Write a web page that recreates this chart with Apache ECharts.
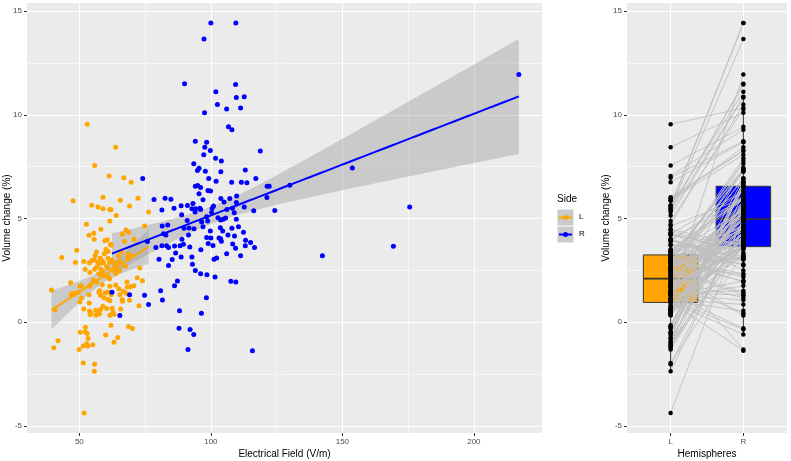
<!DOCTYPE html>
<html><head><meta charset="utf-8">
<script src="https://cdn.jsdelivr.net/npm/echarts@6/dist/echarts.min.js"></script>
<style>html,body{margin:0;padding:0;background:#fff}#c{width:791px;height:461px}</style>
</head><body><div id="c"></div>
<script>
// ---------- data ----------
const sides = ['L', 'R'];
const sideColors = ['#FFA500', '#0000FF'];

const elecL = [
 53.0,63.8,55.8,61.3,66.9,69.7,47.6,59.0,65.6,72.3,
 54.7,57.1,59.0,61.6,62.0,69.1,64.0,76.3,52.7,61.6,
 58.2,53.7,55.5,55.6,59.7,60.6,61.8,62.1,67.7,68.7,
 66.3,67.2,70.8,74.8,49.0,56.5,60.1,60.9,64.9,68.5,
 43.3,48.5,51.7,53.8,54.7,55.7,57.6,58.7,59.2,60.9,
 61.5,63.6,65.3,68.2,70.1,52.2,55.8,56.7,58.2,59.0,
 60.4,63.2,63.8,65.3,73.0,57.4,58.4,59.6,61.0,61.5,
 63.8,68.1,70.7,72.0,74.0,46.7,50.2,50.8,53.7,54.3,
 55.3,56.6,57.7,58.7,61.6,63.8,65.0,66.7,68.2,69.5,
 39.4,46.9,47.4,47.9,48.4,49.6,50.8,50.2,53.7,57.4,
 58.0,59.4,59.7,60.8,62.1,60.9,61.6,65.4,66.3,66.4,
 68.0,69.1,40.7,51.7,53.9,54.4,56.2,57.2,58.1,57.6,
 59.0,60.4,62.8,62.5,65.7,53.8,72.7,54.1,56.3,61.6,
 63.2,62.0,68.7,70.2,52.3,50.3,52.2,53.0,60.0,64.6,
 53.3,41.9,63.2,52.8,55.1,51.5,53.2,49.9,40.3,51.5,
 55.8,55.7,51.8,56.0,58.0,62.5,64.0,66.0,57.0,61.0,
 59.5,54.0,67.5
];
const volL = [
 9.54,8.44,7.55,7.05,6.97,6.75,5.86,6.03,5.88,5.98,
 5.64,5.56,5.47,5.44,5.42,5.60,5.15,5.31,4.72,4.88,
 4.48,4.19,4.29,4.00,3.93,3.98,3.76,3.71,4.45,4.34,
 4.24,3.89,4.00,4.64,3.47,3.39,3.52,3.41,3.21,3.28,
 3.12,2.88,2.93,2.85,2.96,3.01,2.82,2.97,2.85,3.09,
 2.88,2.83,2.93,3.09,3.20,2.56,2.56,2.67,2.56,2.45,
 2.67,2.58,2.49,2.48,2.61,2.34,2.29,2.24,2.18,2.10,
 2.34,1.94,1.76,2.14,2.00,1.90,1.73,1.76,1.73,1.81,
 2.03,1.94,1.52,1.81,1.73,1.79,1.62,1.49,1.70,1.71,
 1.55,1.33,1.39,1.33,1.38,1.44,1.17,0.98,1.33,1.46,
 1.30,1.17,1.41,1.46,1.33,1.09,1.03,1.33,1.10,1.01,
 1.39,1.06,0.60,0.64,0.53,0.43,0.58,0.53,0.61,0.40,
 0.77,0.66,0.48,0.67,0.64,0.93,0.80,0.37,0.34,0.34,
 0.38,-0.14,-0.21,-0.30,-0.24,-0.48,-0.46,-0.54,-0.62,-0.73,
 -0.78,-0.89,-0.97,-1.04,-1.08,-1.15,-1.15,-1.31,-1.23,-1.97,
 -2.03,-2.36,-4.38,3.20,3.10,3.00,2.70,3.40,2.90,2.60,
 3.30,2.40,2.70
];
const elecR = [
 111.3,97.6,106.7,108.0,94.1,98.4,97.7,99.8,97.3,118.8,
 100.0,109.5,97.4,90.0,109.4,101.9,109.7,112.7,102.5,106.0,
 88.3,89.6,86.6,80.3,85.3,83.9,88.7,92.0,92.8,94.1,
 98.9,99.9,103.8,107.2,109.8,121.3,78.4,82.6,84.8,81.4,
 103.7,104.0,96.2,101.2,102.2,96.1,98.5,101.6,107.6,109.5,
 101.8,104.0,93.5,95.5,94.9,97.9,103.8,113.1,99.2,117.1,
 91.3,62.4,65.4,69.1,96.1,101.0,105.0,97.0,106.5,110.5,
 108.2,108.9,109.7,112.7,116.3,124.3,102.7,103.7,104.7,105.6,
 98.3,96.4,82.0,82.9,75.9,79.1,81.4,83.2,83.9,86.2,
 103.6,108.0,175.6,153.8,217.1,169.4,142.4,115.8,112.4,113.2,
 87.3,86.2,80.9,74.8,81.6,76.3,88.1,87.9,92.1,93.5,
 88.7,91.1,93.2,92.8,94.2,95.8,94.0,88.9,100.3,106.1,
 115.1,116.6,113.1,111.3,109.0,108.3,109.4,98.4,100.0,103.1,
 74.1,107.9,111.6,113.7,96.1,94.1,95.0,121.4,122.2,130.0,
 91.0,86.0,100.8,95.5,102.0,99.0,104.5,91.5,97.0,106.0,
 98.8,109.7,96.5,98.4,81.5,83.6,89.8,91.7,93.6,99.8,
 93.0,100.5,89.0
];
const volR = [
 10.33,10.10,9.42,9.28,8.73,8.68,8.44,8.28,8.08,8.25,
 14.42,14.42,13.65,11.50,11.46,11.11,10.84,10.87,10.50,10.28,
 3.69,3.76,3.34,3.04,3.02,2.73,3.15,3.63,3.15,2.49,
 6.35,6.33,5.97,5.97,6.09,6.01,5.92,5.98,5.93,5.41,
 4.03,3.90,3.49,3.04,3.10,2.34,2.29,2.18,1.98,1.94,
 7.90,7.77,7.64,7.42,7.32,7.28,7.26,7.34,6.93,6.93,
 -1.31,1.44,0.32,1.33,5.44,5.60,5.80,4.60,4.20,4.60,
 5.50,5.28,5.77,5.56,5.37,5.39,5.04,4.93,4.97,5.02,
 1.18,0.43,4.27,4.21,3.89,3.60,3.69,3.69,3.60,3.68,
 4.56,4.53,5.55,7.43,11.94,3.66,3.21,-1.37,4.34,3.95,
 1.99,1.76,1.52,1.30,1.07,0.86,0.55,-0.29,-0.35,-0.59,
 5.61,5.63,5.73,5.47,5.47,5.49,5.31,5.18,5.29,5.44,
 3.84,3.60,3.69,3.21,4.16,3.77,3.57,4.08,4.06,4.06,
 6.93,6.75,6.75,6.73,6.49,6.55,6.59,6.56,6.56,6.60,
 4.90,5.50,3.70,6.20,6.80,3.80,4.40,4.20,5.90,3.30,
 4.88,4.97,4.83,5.08,4.64,4.69,4.53,4.54,4.51,4.40,
 2.80,5.50,4.00
];

const xTicks = [50, 100, 150, 200];
const xMinor = [75, 125, 175];
const yTicks = [-5, 0, 5, 10, 15];
const yMinor = [-2.5, 2.5, 7.5, 12.5];
const hemiTicks = [1, 2];

// ---------- derived ----------
function fitLine(xs, ys) {
  const n = xs.length;
  const xbar = xs.reduce((a, b) => a + b, 0) / n;
  const ybar = ys.reduce((a, b) => a + b, 0) / n;
  let sxx = 0, sxy = 0;
  for (let i = 0; i < n; i++) { sxx += (xs[i] - xbar) ** 2; sxy += (xs[i] - xbar) * (ys[i] - ybar); }
  const b = sxy / sxx, a = ybar - b * xbar;
  let sse = 0;
  for (let i = 0; i < n; i++) sse += (ys[i] - a - b * xs[i]) ** 2;
  const s = Math.sqrt(sse / (n - 2));
  const t = 1.975;
  const xmin = Math.min(...xs), xmax = Math.max(...xs);
  const pts = [];
  for (let k = 0; k <= 80; k++) {
    const x = xmin + (xmax - xmin) * k / 80;
    const yh = a + b * x;
    const se = s * Math.sqrt(1 / n + (x - xbar) ** 2 / sxx);
    pts.push([x, yh, yh - t * se, yh + t * se]);
  }
  return pts;
}
function quant(sorted, p) {
  const h = (sorted.length - 1) * p, lo = Math.floor(h);
  return lo + 1 < sorted.length ? sorted[lo] + (h - lo) * (sorted[lo + 1] - sorted[lo]) : sorted[lo];
}
function boxStats(vals, pos) {
  const s = [...vals].sort((a, b) => a - b);
  const q1 = quant(s, 0.25), med = quant(s, 0.5), q3 = quant(s, 0.75);
  const iqr = q3 - q1;
  const lo = Math.min(...s.filter(v => v >= q1 - 1.5 * iqr));
  const hi = Math.max(...s.filter(v => v <= q3 + 1.5 * iqr));
  return [pos, q1, med, q3, lo, hi];
}
const fitL = fitLine(elecL, volL);
const fitR = fitLine(elecR, volR);

const Y_MIN = -5.34, Y_MAX = 15.39;
const X_MIN = 30.1, X_MAX = 225.9;

function bandRenderer(fit) {
  return function (params, api) {
    const up = fit.map(p => api.coord([p[0], p[3]]));
    const dn = fit.map(p => api.coord([p[0], p[2]])).reverse();
    return { type: 'polygon', shape: { points: up.concat(dn) }, style: { fill: 'rgba(153,153,153,0.4)' } };
  };
}

const FONT = 'Liberation Sans, Arial, sans-serif';
const labelStyle = { color: '#4D4D4D', fontSize: 8, fontFamily: FONT };
const nameStyle = { color: '#000000', fontSize: 10, fontFamily: FONT };
const tickStyle = { show: true, length: 3, lineStyle: { color: '#333333', width: 1 } };

function mainAxis(extra, ticks, min, max) {
  return Object.assign({
    type: 'value', min, max, offset: 0,
    axisLine: { show: false, onZero: false },
    axisTick: Object.assign({ customValues: ticks }, tickStyle),
    axisLabel: Object.assign({ customValues: ticks, margin: 5 }, labelStyle),
    splitLine: { show: true, lineStyle: { color: '#FFFFFF', width: 1.1 } },
    nameLocation: 'middle', nameMoveOverlap: false, nameTextStyle: nameStyle
  }, extra);
}
function minorAxis(extra, ticks, min, max) {
  return Object.assign({
    type: 'value', min, max, offset: 0,
    axisLine: { show: false, onZero: false },
    axisTick: { show: false, customValues: ticks },
    axisLabel: { show: false, customValues: ticks },
    splitLine: { show: true, lineStyle: { color: '#FFFFFF', width: 0.55 } }
  }, extra);
}

const chart = echarts.init(document.getElementById('c'), null, { renderer: 'canvas' });
chart.setOption({
  animation: false,
  backgroundColor: '#ffffff',
  grid: [
    { left: 27, top: 3, width: 515, height: 430, show: true, backgroundColor: '#EBEBEB', borderWidth: 0, outerBoundsMode: 'none', containLabel: false },
    { left: 627, top: 3, width: 160, height: 430, show: true, backgroundColor: '#EBEBEB', borderWidth: 0, outerBoundsMode: 'none', containLabel: false }
  ],
  xAxis: [
    minorAxis({ gridIndex: 0, position: 'bottom' }, xMinor, X_MIN, X_MAX),
    mainAxis({ gridIndex: 0, position: 'bottom', name: 'Electrical Field (V/m)', nameGap: 16 }, xTicks, X_MIN, X_MAX),
    mainAxis({ gridIndex: 1, position: 'bottom', name: 'Hemispheres', nameGap: 16,
      axisLabel: Object.assign({ customValues: hemiTicks, margin: 5, formatter: v => sides[Math.round(v) - 1] }, labelStyle) }, hemiTicks, 0.4, 2.6)
  ],
  yAxis: [
    minorAxis({ gridIndex: 0, position: 'left' }, yMinor, Y_MIN, Y_MAX),
    mainAxis({ gridIndex: 0, position: 'left', name: 'Volume change (%)', nameGap: 15 }, yTicks, Y_MIN, Y_MAX),
    minorAxis({ gridIndex: 1, position: 'left' }, yMinor, Y_MIN, Y_MAX),
    mainAxis({ gridIndex: 1, position: 'left', name: 'Volume change (%)', nameGap: 16 }, yTicks, Y_MIN, Y_MAX)
  ],
  series: [
    { type: 'custom', xAxisIndex: 1, yAxisIndex: 1, z: 2, silent: true, data: [[60, 2]], renderItem: bandRenderer(fitL) },
    { type: 'custom', xAxisIndex: 1, yAxisIndex: 1, z: 2, silent: true, data: [[100, 5]], renderItem: bandRenderer(fitR) },
    { type: 'scatter', xAxisIndex: 1, yAxisIndex: 1, z: 3, symbolSize: 5,
      itemStyle: { color: sideColors[0], opacity: 1 }, data: elecL.map((x, i) => [x, volL[i]]) },
    { type: 'scatter', xAxisIndex: 1, yAxisIndex: 1, z: 3, symbolSize: 5,
      itemStyle: { color: sideColors[1], opacity: 1 }, data: elecR.map((x, i) => [x, volR[i]]) },
    { type: 'line', xAxisIndex: 1, yAxisIndex: 1, z: 4, showSymbol: false, silent: true,
      lineStyle: { color: sideColors[0], width: 2 }, data: fitL.map(p => [p[0], p[1]]) },
    { type: 'line', xAxisIndex: 1, yAxisIndex: 1, z: 4, showSymbol: false, silent: true,
      lineStyle: { color: sideColors[1], width: 2 }, data: fitR.map(p => [p[0], p[1]]) },
    // boxplots
    { type: 'custom', xAxisIndex: 2, yAxisIndex: 3, z: 2, silent: true,
      data: [boxStats(volL, 1), boxStats(volR, 2)],
      renderItem: function (params, api) {
        const x = api.value(0);
        const tl = api.coord([x - 0.375, api.value(3)]);
        const br = api.coord([x + 0.375, api.value(1)]);
        const m1 = api.coord([x - 0.375, api.value(2)]);
        const m2 = api.coord([x + 0.375, api.value(2)]);
        const c3 = api.coord([x, api.value(3)]), c5 = api.coord([x, api.value(5)]);
        const c1 = api.coord([x, api.value(1)]), c4 = api.coord([x, api.value(4)]);
        const stroke = '#333333';
        return { type: 'group', children: [
          { type: 'line', shape: { x1: c3[0], y1: c3[1], x2: c5[0], y2: c5[1] }, style: { stroke, lineWidth: 1 } },
          { type: 'line', shape: { x1: c1[0], y1: c1[1], x2: c4[0], y2: c4[1] }, style: { stroke, lineWidth: 1 } },
          { type: 'rect', shape: { x: tl[0], y: tl[1], width: br[0] - tl[0], height: br[1] - tl[1] },
            style: { fill: sideColors[params.dataIndex], stroke, lineWidth: 1 } },
          { type: 'line', shape: { x1: m1[0], y1: m1[1], x2: m2[0], y2: m2[1] }, style: { stroke, lineWidth: 1.8 } }
        ] };
      } },
    // paired lines
    { type: 'custom', xAxisIndex: 2, yAxisIndex: 3, z: 3, silent: true,
      data: volL.map((v, i) => [v, volR[i]]),
      renderItem: function (params, api) {
        const p1 = api.coord([1, api.value(0)]);
        const p2 = api.coord([2, api.value(1)]);
        return { type: 'line', shape: { x1: p1[0], y1: p1[1], x2: p2[0], y2: p2[1] }, style: { stroke: '#BEBEBE', lineWidth: 0.9 } };
      } },
    { type: 'scatter', xAxisIndex: 2, yAxisIndex: 3, z: 4, symbolSize: 4.5,
      itemStyle: { color: '#000000', opacity: 1 },
      data: volL.map(v => [1, v]).concat(volR.map(v => [2, v])) }
  ],
  graphic: [
    { type: 'text', left: 557, top: 194, style: { text: 'Side', fill: '#000', font: '10px ' + FONT } },
    { type: 'rect', shape: { x: 557.5, y: 209.5, width: 16, height: 16 }, style: { fill: '#CBCBCB' } },
    { type: 'line', shape: { x1: 559, y1: 217.5, x2: 572, y2: 217.5 }, style: { stroke: sideColors[0], lineWidth: 2 } },
    { type: 'circle', shape: { cx: 565.5, cy: 217.5, r: 2.5 }, style: { fill: sideColors[0] } },
    { type: 'text', left: 579, top: 213, style: { text: sides[0], fill: '#000', font: '8px ' + FONT } },
    { type: 'rect', shape: { x: 557.5, y: 226.5, width: 16, height: 16 }, style: { fill: '#CBCBCB' } },
    { type: 'line', shape: { x1: 559, y1: 234.5, x2: 572, y2: 234.5 }, style: { stroke: sideColors[1], lineWidth: 2 } },
    { type: 'circle', shape: { cx: 565.5, cy: 234.5, r: 2.5 }, style: { fill: sideColors[1] } },
    { type: 'text', left: 579, top: 230, style: { text: sides[1], fill: '#000', font: '8px ' + FONT } }
  ]
});
</script>
</body></html>
